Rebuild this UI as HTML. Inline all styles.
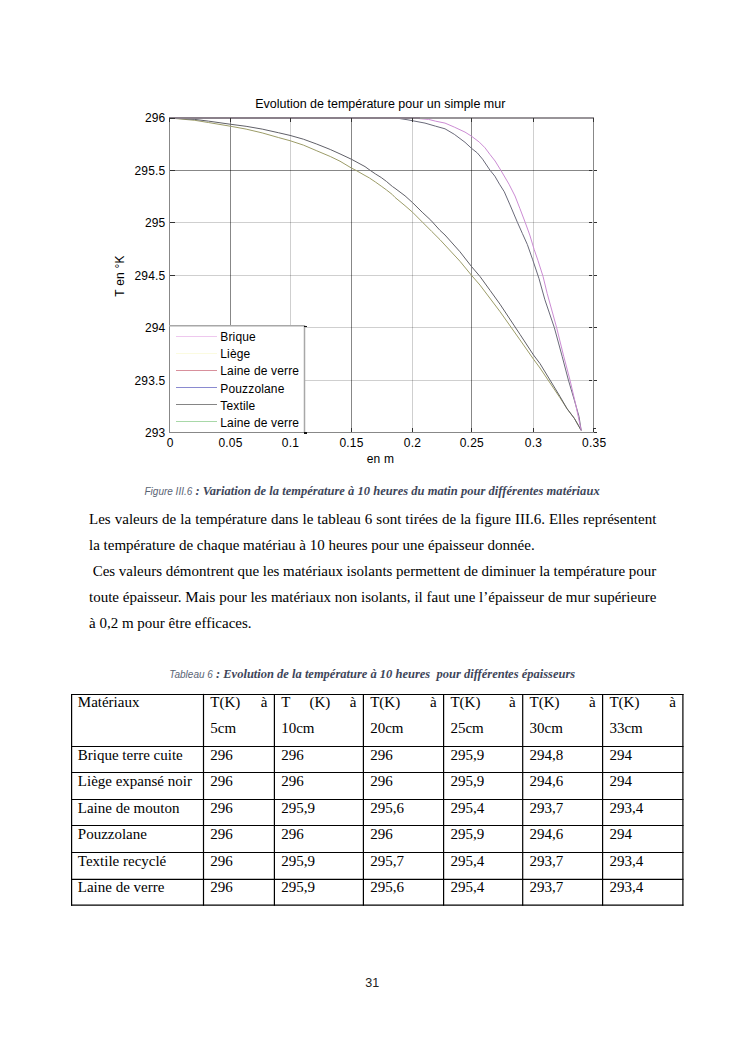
<!DOCTYPE html>
<html><head><meta charset="utf-8">
<style>
html,body{margin:0;padding:0;background:#fff;}
body{width:745px;height:1053px;position:relative;overflow:hidden;}
.t{position:absolute;white-space:pre;font-family:"Liberation Serif",serif;font-size:15px;line-height:20px;color:#000;}
.j{text-align:justify;text-align-last:justify;white-space:normal;}
.cap{position:absolute;white-space:pre;color:#3e465a;font:italic bold 12.5px "Liberation Serif",serif;line-height:20px;}
.cap .s{font-family:"Liberation Sans",sans-serif;font-style:italic;font-weight:normal;font-size:10px;color:#5a6474;}
.cap .b{font-family:"Liberation Serif",serif;font-style:italic;font-weight:bold;font-size:12.5px;color:#3e465a;}
svg{position:absolute;left:0;top:0;}
</style></head><body>
<svg width="745" height="1053" viewBox="0 0 745 1053">
<g font-family="Liberation Sans, sans-serif" font-size="12" fill="#000" letter-spacing="0.2">
<text x="380.3" y="107.5" text-anchor="middle" font-size="12.5" letter-spacing="0">Evolution de température pour un simple mur</text>
<!-- y tick labels -->
<g text-anchor="end">
<text x="165.5" y="121.8">296</text>
<text x="165.5" y="174.8">295.5</text>
<text x="165.5" y="226.8">295</text>
<text x="165.5" y="279.8">294.5</text>
<text x="165.5" y="331.8">294</text>
<text x="165.5" y="384.8">293.5</text>
<text x="165.5" y="436.8">293</text>
</g>
<g text-anchor="middle">
<text x="170.2" y="447">0</text>
<text x="230.5" y="447">0.05</text>
<text x="290.5" y="447">0.1</text>
<text x="351.5" y="447">0.15</text>
<text x="412.5" y="447">0.2</text>
<text x="471.8" y="447">0.25</text>
<text x="533.5" y="447">0.3</text>
<text x="594.2" y="447">0.35</text>
</g>
<text x="380.5" y="463" text-anchor="middle">en m</text>
<text transform="translate(123.5,276) rotate(-90)" text-anchor="middle">T en °K</text>
</g>
<!-- grid -->
<g stroke="#000" stroke-width="1" shape-rendering="crispEdges">
<g stroke-opacity="0.47">
<line x1="230.5" y1="118" x2="230.5" y2="432"/>
<line x1="351.5" y1="118" x2="351.5" y2="432"/>
<line x1="471.5" y1="118" x2="471.5" y2="432"/>
<line x1="170" y1="170.5" x2="593" y2="170.5"/>
</g>
<g stroke-opacity="0.19">
<line x1="290.5" y1="118" x2="290.5" y2="432"/>
<line x1="412.5" y1="118" x2="412.5" y2="432"/>
<line x1="533.5" y1="118" x2="533.5" y2="432"/>
<line x1="170" y1="222.5" x2="593" y2="222.5"/>
<line x1="170" y1="275.5" x2="593" y2="275.5"/>
<line x1="170" y1="327.5" x2="593" y2="327.5"/>
<line x1="170" y1="380.5" x2="593" y2="380.5"/>
</g>
</g>
<!-- curves -->
<g fill="none" stroke-width="1" stroke-linejoin="round">
<polyline stroke="#9c9c68" points="169.5,118 194.8,120.3 208.3,122.5 230.8,126.3 246.1,129.1 262.2,132.9 278.3,137.5 290,140.7 303.4,145.1 316.8,150.8 330.3,156.5 340,161.2 351.5,168.1 356.4,170.6 365,175.5 369.3,177.9 375.7,182.2 381.2,186.1 386.4,189.9 392.4,194.6 395,197.4 405,205.7 412.5,212.2 422.7,222.4 431.8,231.5 440,239.7 460,261.3 471.4,275.2 480,285.1 500,311.6 520,339.9 533.5,359.2 540,368 560,397.8 567.1,408.8 574.3,418.3 581.2,430.4"/>
<polyline stroke="#606068" points="169.5,118 194.8,119.4 208.3,121.1 230.8,124.3 246.1,126.3 262.2,129.1 278.3,132.7 290,135.4 303.4,139.2 316.8,144.1 330.3,149.5 340,153.9 351.5,159.3 365,166.6 370.1,170.3 375.7,174.1 381.2,177.5 386.4,181.4 392.4,186.5 395,188.3 405,195.8 412.5,202.6 422.2,212.2 430.8,220.2 440,230.4 445,235 460,251.8 471.4,266.4 480,276.5 490,290.3 500,304.2 520,334.4 533.5,355 540,363.6 560,396.5 567.1,408.8 574.3,418.3 581.2,430.4"/>
<polyline stroke="#6a6a7a" points="169.5,118 398,118.3 407,119.7 415,121.2 425,123.1 435.3,126.1 445,128.8 454.3,134.3 465,142.3 471.5,148.3 477.4,153 482.6,159.2 490,170.2 494.8,176.1 499.5,184.2 504.3,191.8 510,204.9 517.4,222.3 522.3,233.3 527.3,244.4 532.5,259.2 539,278.6 544.9,299.8 554.3,327.5 562.1,356.2 568.4,380.1 574.3,400 579,416.5 581.2,430.4"/>
<polyline stroke="#cc8cd4" points="169.5,118 412,118 428.6,119.4 435.3,121.1 445,123.1 454.3,127.1 465,132.1 471.5,136.2 479.3,142.1 485,147.8 490,154.5 495.1,161 500.9,170.4 509,184.2 515,196 519.9,208.5 525.2,222.4 529.8,235.1 534.1,249.3 537.9,260.3 543,276.3 547.2,293.5 556.6,327.5 563.7,356.2 570,380.1 575.4,403.2 581.2,430.4"/>
</g>
<!-- axes box -->
<g stroke="#888" stroke-width="1" shape-rendering="crispEdges" fill="none">
<line x1="169.5" y1="117" x2="169.5" y2="433"/>
<line x1="593.5" y1="117" x2="593.5" y2="433"/>
<line x1="169" y1="432.5" x2="594" y2="432.5"/>
<line x1="169" y1="118" x2="420" y2="118" stroke="#8a808a" stroke-width="2"/><line x1="420" y1="118" x2="594" y2="118" stroke="#989498" stroke-width="2"/>
</g>
<!-- ticks -->
<g stroke="#333" stroke-width="1" shape-rendering="crispEdges">
<path d="M170 170.5h5M170 222.5h5M170 275.5h5M170 327.5h5M170 380.5h5M170 118.5h5"/>
<path d="M589 170.5h2.5M594 170.5h2.5M589 222.5h2.5M594 222.5h2.5M589 275.5h2.5M594 275.5h2.5M589 327.5h2.5M594 327.5h2.5M589 380.5h2.5M594 380.5h2.5M594 432.8h2.5M594 428.5h2"/>
<path d="M230.5 432v-4M290.5 432v-4M351.5 432v-4M412.5 432v-4M471.5 432v-4M533.5 432v-4M593.5 432v-4"/>
<path d="M230.5 118v4M290.5 118v4M351.5 118v4M412.5 118v4M471.5 118v4M533.5 118v4M593.5 118v4M169.5 118v4"/>
</g>
<!-- legend -->
<rect x="170" y="326" width="134.5" height="106" fill="#fff" stroke="none"/>
<path d="M169 325.75H304.5M304.5 325V432" stroke="#a8a8a8" stroke-width="1.5" fill="none"/>
<g stroke-width="1" shape-rendering="crispEdges">
<line x1="176" y1="336.5" x2="217" y2="336.5" stroke="#eec8ee"/>
<line x1="176" y1="353.5" x2="217" y2="353.5" stroke="#fbfbe0"/>
<line x1="176" y1="370.5" x2="217" y2="370.5" stroke="#d8909c"/>
<line x1="176" y1="387.5" x2="217" y2="387.5" stroke="#8a8ad0"/>
<line x1="176" y1="404.5" x2="217" y2="404.5" stroke="#858585"/>
<line x1="176" y1="421.5" x2="217" y2="421.5" stroke="#a8d8a8"/>
</g>
<g font-family="Liberation Sans, sans-serif" font-size="12" fill="#000" letter-spacing="0.15">
<text x="220.3" y="340.75">Brique</text>
<text x="220.3" y="357.5">Liège</text>
<text x="220.3" y="374.7">Laine de verre</text>
<text x="220.3" y="392.85">Pouzzolane</text>
<text x="220.3" y="409.75">Textile</text>
<text x="220.3" y="426.75">Laine de verre</text>
</g>
<g stroke="#333" stroke-width="1" shape-rendering="crispEdges">
<path d="M304 326.5h3M304 433h3" stroke="#111" stroke-width="1.4"/>
</g>
<!-- table borders -->
<g stroke="#000" stroke-width="1.2" fill="none">
<line x1="71.6" y1="693.9" x2="71.6" y2="905.8"/>
<line x1="203.5" y1="693.9" x2="203.5" y2="905.8"/>
<line x1="274.4" y1="693.9" x2="274.4" y2="905.8"/>
<line x1="363.4" y1="693.9" x2="363.4" y2="905.8"/>
<line x1="443.6" y1="693.9" x2="443.6" y2="905.8"/>
<line x1="522.7" y1="693.9" x2="522.7" y2="905.8"/>
<line x1="602.6" y1="693.9" x2="602.6" y2="905.8"/>
<line x1="682.9" y1="693.9" x2="682.9" y2="905.8"/>
<line x1="71" y1="694.5" x2="683.5" y2="694.5"/>
<line x1="71" y1="746.5" x2="683.5" y2="746.5"/>
<line x1="71" y1="772.5" x2="683.5" y2="772.5"/>
<line x1="71" y1="799.5" x2="683.5" y2="799.5"/>
<line x1="71" y1="825.5" x2="683.5" y2="825.5"/>
<line x1="71" y1="852.5" x2="683.5" y2="852.5"/>
<line x1="71" y1="879.3" x2="683.5" y2="879.3"/>
<line x1="71" y1="905.2" x2="683.5" y2="905.2"/>
</g>
</svg>

<!-- Figure caption -->
<div class="cap" style="left:144.5px;top:480.6px;"><span class="s">Figure III.6</span><span class="b" style="letter-spacing:0.03px"> : Variation de la température à 10 heures du matin pour différentes matériaux</span></div>

<!-- paragraph -->
<div class="t j" style="left:89px;top:509px;width:567.3px;">Les valeurs de la température dans le tableau 6 sont tirées de la figure III.6. Elles représentent</div>
<div class="t" style="left:89px;top:535px;">la température de chaque matériau à 10 heures pour une épaisseur donnée.</div>
<div class="t j" style="left:92.7px;top:561px;width:563.6px;word-spacing:-0.3px;">Ces valeurs démontrent que les matériaux isolants permettent de diminuer  la température pour</div>
<div class="t j" style="left:89px;top:587px;width:567.3px;word-spacing:-0.1px;">toute épaisseur. Mais pour les matériaux non isolants, il faut une l’épaisseur de mur supérieure</div>
<div class="t" style="left:89px;top:612.5px;">à 0,2 m pour être efficaces.</div>

<!-- table caption -->
<div class="cap" style="left:169.3px;top:663.5px;"><span class="s">Tableau 6</span><span class="b"> : Evolution de la température à 10 heures  pour différentes épaisseurs</span></div>

<!-- table text -->
<!--TBL-->
<div class="t" style="left:77.8px;top:692.04px;">Matériaux</div>
<div class="t j" style="left:210.3px;top:692.04px;width:57.1px;">T(K) à</div>
<div class="t" style="left:210.3px;top:717.54px;">5cm</div>
<div class="t j" style="left:281.2px;top:692.04px;width:75.2px;">T (K) à</div>
<div class="t" style="left:281.2px;top:717.54px;">10cm</div>
<div class="t j" style="left:370.2px;top:692.04px;width:66.4px;">T(K) à</div>
<div class="t" style="left:370.2px;top:717.54px;">20cm</div>
<div class="t j" style="left:450.4px;top:692.04px;width:65.3px;">T(K) à</div>
<div class="t" style="left:450.4px;top:717.54px;">25cm</div>
<div class="t j" style="left:529.5px;top:692.04px;width:66.1px;">T(K) à</div>
<div class="t" style="left:529.5px;top:717.54px;">30cm</div>
<div class="t j" style="left:609.4px;top:692.04px;width:66.5px;">T(K) à</div>
<div class="t" style="left:609.4px;top:717.54px;">33cm</div>
<div class="t" style="left:77.8px;top:745.14px;">Brique terre cuite</div>
<div class="t" style="left:210.3px;top:745.14px;">296</div>
<div class="t" style="left:281.2px;top:745.14px;">296</div>
<div class="t" style="left:370.2px;top:745.14px;">296</div>
<div class="t" style="left:450.4px;top:745.14px;">295,9</div>
<div class="t" style="left:529.5px;top:745.14px;">294,8</div>
<div class="t" style="left:609.4px;top:745.14px;">294</div>
<div class="t" style="left:77.8px;top:770.94px;">Liège expansé noir</div>
<div class="t" style="left:210.3px;top:770.94px;">296</div>
<div class="t" style="left:281.2px;top:770.94px;">296</div>
<div class="t" style="left:370.2px;top:770.94px;">296</div>
<div class="t" style="left:450.4px;top:770.94px;">295,9</div>
<div class="t" style="left:529.5px;top:770.94px;">294,6</div>
<div class="t" style="left:609.4px;top:770.94px;">294</div>
<div class="t" style="left:77.8px;top:797.84px;">Laine de mouton</div>
<div class="t" style="left:210.3px;top:797.84px;">296</div>
<div class="t" style="left:281.2px;top:797.84px;">295,9</div>
<div class="t" style="left:370.2px;top:797.84px;">295,6</div>
<div class="t" style="left:450.4px;top:797.84px;">295,4</div>
<div class="t" style="left:529.5px;top:797.84px;">293,7</div>
<div class="t" style="left:609.4px;top:797.84px;">293,4</div>
<div class="t" style="left:77.8px;top:823.74px;">Pouzzolane</div>
<div class="t" style="left:210.3px;top:823.74px;">296</div>
<div class="t" style="left:281.2px;top:823.74px;">296</div>
<div class="t" style="left:370.2px;top:823.74px;">296</div>
<div class="t" style="left:450.4px;top:823.74px;">295,9</div>
<div class="t" style="left:529.5px;top:823.74px;">294,6</div>
<div class="t" style="left:609.4px;top:823.74px;">294</div>
<div class="t" style="left:77.8px;top:850.94px;">Textile recyclé</div>
<div class="t" style="left:210.3px;top:850.94px;">296</div>
<div class="t" style="left:281.2px;top:850.94px;">295,9</div>
<div class="t" style="left:370.2px;top:850.94px;">295,7</div>
<div class="t" style="left:450.4px;top:850.94px;">295,4</div>
<div class="t" style="left:529.5px;top:850.94px;">293,7</div>
<div class="t" style="left:609.4px;top:850.94px;">293,4</div>
<div class="t" style="left:77.8px;top:876.84px;">Laine de verre</div>
<div class="t" style="left:210.3px;top:876.84px;">296</div>
<div class="t" style="left:281.2px;top:876.84px;">295,9</div>
<div class="t" style="left:370.2px;top:876.84px;">295,6</div>
<div class="t" style="left:450.4px;top:876.84px;">295,4</div>
<div class="t" style="left:529.5px;top:876.84px;">293,7</div>
<div class="t" style="left:609.4px;top:876.84px;">293,4</div>
<!--/TBL-->

<!-- page number -->
<div style="position:absolute;left:365.3px;top:975px;font-family:'Liberation Sans',sans-serif;font-size:12.5px;line-height:16px;color:#222;">31</div>
</body></html>
